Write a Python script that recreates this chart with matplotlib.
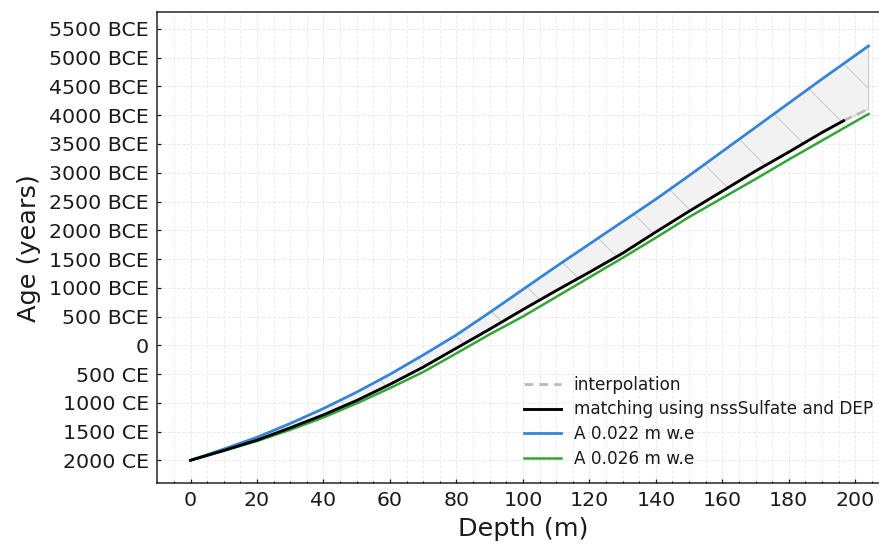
import numpy as np
import matplotlib
matplotlib.use("Agg")
import matplotlib.pyplot as plt
from matplotlib.ticker import FixedLocator, MultipleLocator

# Depth (m) and age in years before 2000 CE (b2k)
depth_model = [0, 10, 20, 30, 40, 50, 60, 70, 80, 90, 100, 110, 120, 130,
               140, 150, 160, 170, 180, 190, 204]
age_a022 = [0, 195, 400, 640, 900, 1185, 1495, 1830, 2180, 2570, 2970, 3370,
            3760, 4150, 4540, 4950, 5370, 5790, 6210, 6630, 7205]
age_a026 = [0, 165, 335, 530, 745, 990, 1255, 1535, 1860, 2190, 2500, 2840,
            3180, 3520, 3870, 4230, 4560, 4890, 5230, 5560, 6022]

depth_match = [0, 10, 20, 30, 40, 50, 60, 70, 80, 90, 100, 110, 120, 130,
               140, 150, 160, 170, 180, 190, 196.5]
age_match = [0, 170, 350, 565, 790, 1040, 1320, 1620, 1950, 2280, 2620, 2950,
             3270, 3600, 3970, 4330, 4680, 5030, 5360, 5700, 5905]

depth_interp = [196.5, 204]
age_interp = [5905, 6108]

year_ticks = list(range(-2000, 5501, 500))


def to_axis(age_b2k):
    # positive values are BCE, negative values CE
    return np.asarray(age_b2k, dtype=float) - 2000


def year_label(v):
    if v < 0:
        return f"{-v} CE"
    if v == 0:
        return "0"
    return f"{v} BCE"


DPI = 180
plt.rcParams["font.family"] = ["DejaVu Sans"]
plt.rcParams["hatch.linewidth"] = 0.45
plt.rcParams["hatch.color"] = "#c6c6c6"

fig = plt.figure(figsize=(879 / DPI, 545 / DPI), dpi=DPI)
W, H = 879, 545
left, right, top, bottom = 157.3, 888.5, 12.3, 483.0
ax = fig.add_axes([left / W, 1 - bottom / H, (right - left) / W, (bottom - top) / H])

# shaded range between the A 0.022 curve and the matched chronology
low_x = np.array(depth_match + depth_interp[1:])
low_y = to_axis(age_match + age_interp[1:])
up_y = np.interp(low_x, depth_model, to_axis(age_a022))
ax.fill_between(low_x, low_y, up_y, facecolor="#f2f2f2", edgecolor="#cdcdcd",
                hatch="\\", linewidth=0.5, zorder=1)

ax.plot(depth_interp, to_axis(age_interp), color="#b8b8b8", lw=1.1,
        ls=(0, (3.2, 2.2)), label="interpolation", zorder=3)
ax.plot(depth_match, to_axis(age_match), color="black", lw=1.15,
        label="matching using nssSulfate and DEP", zorder=4)
ax.plot(depth_model, to_axis(age_a022), color="#3584d6", lw=1.1,
        label="A 0.022 m w.e", zorder=3)
ax.plot(depth_model, to_axis(age_a026), color="#34a534", lw=1.0,
        label="A 0.026 m w.e", zorder=3)

ax.set_xlim(-10, 210)
ax.set_ylim(-2395, 5790)
ax.xaxis.set_major_locator(MultipleLocator(20))
ax.xaxis.set_minor_locator(MultipleLocator(5))
ax.yaxis.set_major_locator(FixedLocator(year_ticks))
ax.set_yticklabels([year_label(v) for v in year_ticks])

ax.grid(True, which="major", color="#e9e9e9", lw=0.4, ls=(0, (3, 2)), zorder=0)
ax.grid(True, which="minor", axis="x", color="#ececec", lw=0.4, ls=(0, (3, 2)), zorder=0)
ax.set_axisbelow(True)

ax.tick_params(which="major", direction="in", length=1.7, width=0.5,
               labelsize=8.2, pad=3.4, colors="#1a1a1a", labelcolor="#1a1a1a")
ax.tick_params(which="minor", direction="in", length=1.0, width=0.45, colors="#1a1a1a")
ax.tick_params(axis="y", which="minor", length=0)

for s in ax.spines.values():
    s.set_linewidth(0.6)
    s.set_color("#222222")

ax.set_xlabel("Depth (m)", fontsize=10.2, labelpad=2.5, color="#1a1a1a")
ax.set_ylabel("Age (years)", fontsize=10.2, labelpad=3, color="#1a1a1a")

leg = ax.legend(loc="lower right", bbox_to_anchor=(873 / W, 1 - 468 / H),
                bbox_transform=fig.transFigure, frameon=False, fontsize=6.75,
                handlelength=2.2, handletextpad=0.75, labelspacing=0.4,
                borderpad=0, borderaxespad=0)
for t in leg.get_texts():
    t.set_color("#1a1a1a")

fig.savefig("out.png", dpi=DPI)
